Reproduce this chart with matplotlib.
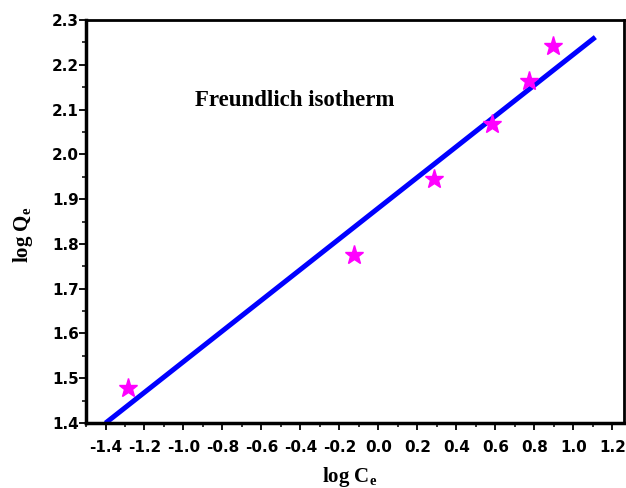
import matplotlib
matplotlib.use("Agg")
import matplotlib.pyplot as plt
from matplotlib.ticker import MultipleLocator
import numpy as np

log_ce = [-1.287, -0.123, 0.287, 0.585, 0.774, 0.897]
log_qe = [1.478, 1.775, 1.945, 2.067, 2.163, 2.241]
fit_x = [-1.40, 1.113]
fit_intercept = 1.880
fit_slope = 0.343
x_ticks = [-1.4, -1.2, -1.0, -0.8, -0.6, -0.4, -0.2, 0.0, 0.2, 0.4, 0.6, 0.8, 1.0, 1.2]
y_ticks = [1.4, 1.5, 1.6, 1.7, 1.8, 1.9, 2.0, 2.1, 2.2, 2.3]

plt.rcParams["mathtext.fontset"] = "custom"
plt.rcParams["mathtext.rm"] = "Liberation Serif:bold"
plt.rcParams["mathtext.bf"] = "Liberation Serif:bold"

fig = plt.figure(figsize=(6.26, 4.88), dpi=100)
ax = fig.add_axes([0.1374, 0.1332, 0.8594, 0.8258])

fx = np.array(fit_x)
ax.plot(fx, fit_intercept + fit_slope * fx, color="#0000ff", lw=3.6, solid_capstyle="butt", zorder=2)
ax.plot(log_ce, log_qe, linestyle="none", marker="*", color="#ff00ff", ms=14, mec="#ff00ff", zorder=3)

ax.set_xlim(-1.5, 1.26)
ax.set_ylim(1.4, 2.3)
ax.set_xticks(x_ticks)
ax.set_xticklabels([f"{v:.1f}" for v in x_ticks])
ax.set_yticks(y_ticks)
ax.set_yticklabels([f"{v:.1f}" for v in y_ticks])
ax.xaxis.set_minor_locator(MultipleLocator(0.1))
ax.yaxis.set_minor_locator(MultipleLocator(0.05))

for lbl in ax.get_xticklabels() + ax.get_yticklabels():
    lbl.set_fontfamily("DejaVu Sans")
    lbl.set_fontweight("bold")
    lbl.set_fontsize(11)

ax.tick_params(which="major", direction="out", length=5, width=1.3)
ax.tick_params(which="minor", direction="out", length=3, width=1.1)
ax.tick_params(axis="x", which="major", pad=7)
ax.tick_params(axis="y", which="major", pad=0)
for side in ["left", "bottom"]:
    ax.spines[side].set_linewidth(2.5)
for side in ["top", "right"]:
    ax.spines[side].set_linewidth(2.0)

ax.set_xlabel("log C$_\\mathrm{e}$", fontfamily="Liberation Serif", fontweight="bold", fontsize=15)
ax.set_ylabel("log Q$_\\mathrm{e}$", fontfamily="Liberation Serif", fontweight="bold", fontsize=15)
ax.xaxis.set_label_coords(0.49, -0.105)
ax.yaxis.set_label_coords(-0.095, 0.466)
ax.text(-0.43, 2.121, "Freundlich isotherm", fontfamily="Liberation Serif", fontweight="bold",
        fontsize=16.5, ha="center", va="center")

fig.savefig("out.png", dpi=100)
